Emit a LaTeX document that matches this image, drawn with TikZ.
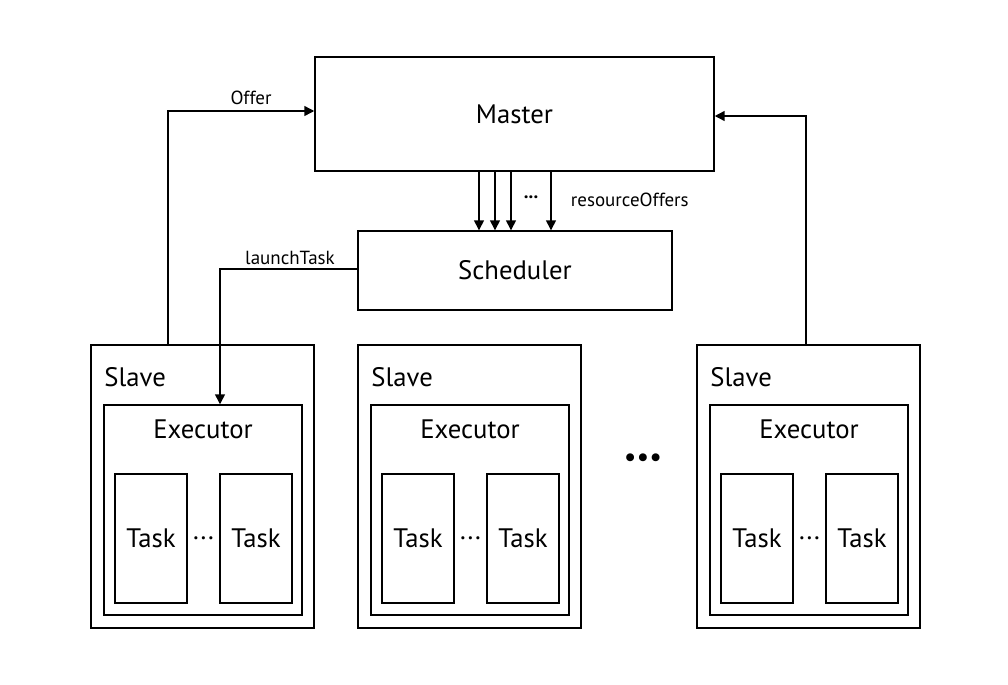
\documentclass[tikz,border=0pt]{standalone}
\usepackage{fontspec}
\setmainfont{PT Sans}
\usetikzlibrary{arrows.meta}
\tikzset{
    box/.style={draw, line width=1pt, inner sep=0pt},
    arr/.style={line width=1pt, -{Triangle[length=7pt,width=7pt]}},
    big/.style={font=\fontsize{19}{22}\selectfont},
    small/.style={font=\fontsize{13.5}{15}\selectfont}
}
\begin{document}
\begin{tikzpicture}[x=0.025cm, y=-0.025cm]
        \useasboundingbox (0,0) rectangle (1008,685);

        % Master and Scheduler
        \node[box, minimum width=9.975cm, minimum height=2.85cm] (master) at (514.5,114) {};
        \node[big] (mastertext) at (master.center) {Master};
        \node[box, minimum width=7.85cm, minimum height=1.975cm] (sched) at (515,270.5) {};
        \node[big] (schedtext) at (sched.center) {Scheduler};

        % resourceOffers arrows
        \foreach \x in {479,495,511,551}
            \draw[arr] (\x,0 |- master.south) -- (\x,0 |- sched.north);
        \node[small] (rdots) at (531,197) {\textbf{...}};
        \node[small, anchor=west] (rlabel) at (566,200) {resourceOffers};

        % Slaves with executor and tasks
        \foreach \i/\x in {1/202.5,2/469.5,3/808.5}{
            \node[box, minimum width=5.575cm, minimum height=7.075cm] (slave\i) at (\x,486.5) {};
            \node[big, anchor=west] (slavetext\i) at (\x-103,377) {Slave};
            \node[box, minimum width=4.95cm, minimum height=5.25cm] (exec\i) at (\x+0.5,510) {};
            \node[big] (exectext\i) at (\x+0.5,429) {Executor};
            \node[box, minimum width=1.8cm, minimum height=3.225cm] (taska\i) at (\x-51.5,538.5) {};
            \node[big] (taskatext\i) at (taska\i.center) {Task};
            \node[box, minimum width=1.8cm, minimum height=3.225cm] (taskb\i) at (\x+53.5,538.5) {};
            \node[big] (taskbtext\i) at (taskb\i.center) {Task};
            \node[big] (tdots\i) at (\x+1,538) {...};
        }
        \node[font=\fontsize{20}{22}\selectfont] (sdots) at (643,460) {•••};

        % Offer and launchTask
        \coordinate (offercorner) at (168,111);
        \draw[arr] (168,0 |- slave1.north) -- (offercorner) -- (offercorner -| master.west);
        \node[small] (offerlabel) at (251,98) {Offer};
        \coordinate (backcorner) at (806,116);
        \draw[arr] (806,0 |- slave3.north) -- (backcorner) -- (backcorner -| master.east);
        \coordinate (launchcorner) at (220,269);
        \draw[arr] (launchcorner -| sched.west) -- (launchcorner) -- (launchcorner |- exec1.north);
        \node[small] (launchlabel) at (290,258) {launchTask};
    \end{tikzpicture}
\end{document}
